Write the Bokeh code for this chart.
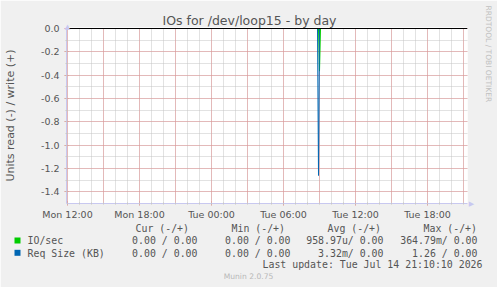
import math
import pandas as pd
from bokeh.plotting import figure
from bokeh.models import (Range1d, SingleIntervalTicker, DatetimeTickFormatter,
                          NumeralTickFormatter, Span, Grid)
from bokeh.core.properties import value
from bokeh.embed import file_html
from bokeh.resources import INLINE

# ---------------- data ----------------
title = "IOs for /dev/loop15 - by day"
y_label = "Units read (-) / write (+)"
x_start = "2026-07-13 11:55"
x_end = "2026-07-14 21:20"
y_min, y_max = -1.5, 0.0086

series_names = ["IO/sec", "Req Size (KB)"]
series_colors = ["#00CC00", "#0066B3"]

io_times = ["2026-07-13 11:55", "2026-07-14 08:55", "2026-07-14 09:00",
            "2026-07-14 09:05", "2026-07-14 21:10"]
io_read = [0.0, 0.0, 0.365, 0.0, 0.0]
io_write = [0.0, 0.0, 0.0, 0.0, 0.0]

req_times = ["2026-07-13 11:55", "2026-07-14 08:50", "2026-07-14 08:55",
             "2026-07-14 09:00", "2026-07-14 21:10"]
req_read = [0.0, 0.0, 1.26, 0.0, 0.0]
req_write = [0.0, 0.0, 0.0, 0.0, 0.0]

legend_headers = ["Cur (-/+)", "Min (-/+)", "Avg (-/+)", "Max (-/+)"]
cur_vals = ["0.00 / 0.00", "0.00 / 0.00"]
min_vals = ["0.00 / 0.00", "0.00 / 0.00"]
avg_vals = ["958.97u/ 0.00", "3.32m/ 0.00"]
max_vals = ["364.79m/ 0.00", "1.26 / 0.00"]
last_update = "Last update: Tue Jul 14 21:10:10 2026"
version_text = "Munin 2.0.75"
side_text = "RRDTOOL / TOBI OETIKER"

# ---------------- layout ----------------
W, H = 497, 287
FL, FT, FW, FH = 66, 27, 401, 176
FB = FT + FH

xs_ms = pd.Timestamp(x_start).value / 1e6
xe_ms = pd.Timestamp(x_end).value / 1e6
MS_PER_PX = (xe_ms - xs_ms) / FW
U_PER_PX = (y_max - y_min) / FH

def dx(cx):
    return xs_ms + (cx - FL) * MS_PER_PX

def dy(cy):
    return y_max - (cy - FT) * U_PER_PX

TEXT = "#555555"
MONO = "DejaVu Sans Mono"
SANS = "DejaVu Sans"

p = figure(width=W, height=H, x_axis_type="datetime",
           x_range=Range1d(xs_ms, xe_ms),
           y_range=Range1d(y_min, y_max),
           output_backend="svg", toolbar_location=None,
           min_border_left=FL, min_border_right=W - FL - FW,
           min_border_top=FT, min_border_bottom=H - FB)
p.background_fill_color = "white"
p.border_fill_color = "#F0F0F0"
p.outline_line_color = None

# grids: minor first, then major on top
p.xgrid.visible = False
p.ygrid.visible = False
HOUR = 3600 * 1000
grid_specs = [
    (0, SingleIntervalTicker(interval=HOUR), "#C4C4C4"),
    (1, SingleIntervalTicker(interval=0.1), "#C4C4C4"),
    (0, SingleIntervalTicker(interval=3 * HOUR), "#E49090"),
    (1, SingleIntervalTicker(interval=0.2), "#E49090"),
]
for dim, tk, col in grid_specs:
    g = Grid(dimension=dim, ticker=tk, grid_line_color=col, grid_line_dash="1 1",
             minor_grid_line_color=None)
    p.add_layout(g)

# axes
fmt = "%a %H:%M"
xa = p.xaxis[0]
xa.ticker = SingleIntervalTicker(interval=6 * HOUR, num_minor_ticks=6)
xa.formatter = DatetimeTickFormatter(hours=fmt, hourmin=fmt, days=fmt, minutes=fmt,
                                     minsec=fmt, seconds=fmt, months=fmt, years=fmt)
ya = p.yaxis[0]
ya.ticker = SingleIntervalTicker(interval=0.2, num_minor_ticks=2)
ya.formatter = NumeralTickFormatter(format="0.0")
ya.axis_label = y_label
ya.axis_label_text_font = SANS
ya.axis_label_text_font_size = "11px"
ya.axis_label_text_font_style = "normal"
ya.axis_label_text_color = TEXT
ya.axis_label_standoff = 21
for ax in (xa, ya):
    ax.axis_line_color = "#C8C8F0"
    ax.major_tick_line_color = "#E09090"
    ax.major_tick_in = 2
    ax.major_tick_out = 2
    ax.minor_tick_line_color = "#C8C8C8"
    ax.minor_tick_in = 1
    ax.minor_tick_out = 1
    ax.major_label_text_font = SANS
    ax.major_label_text_font_size = "9.5px"
    ax.major_label_text_color = TEXT
xa.major_label_standoff = 3
ya.major_label_standoff = 5

# series lines (IO/sec first, Req Size on top)
p.line(pd.to_datetime(io_times), [-v for v in io_read], line_color=series_colors[0], line_width=1)
p.line(pd.to_datetime(io_times), io_write, line_color=series_colors[0], line_width=1)
p.line(pd.to_datetime(req_times), [-v for v in req_read], line_color=series_colors[1], line_width=1)
p.line(pd.to_datetime(req_times), req_write, line_color=series_colors[1], line_width=1)
p.add_layout(Span(location=0, dimension="width", line_color="black", line_width=1))

def lab(cx, cy, text, size, font=SANS, color=TEXT, align="left", angle=0.0, baseline="alphabetic"):
    p.text(x=[dx(cx)], y=[dy(cy)], text=[text], text_font=value(font),
           text_font_size=value(size), text_color=color, text_align=align,
           text_baseline=baseline, angle=angle, level="overlay")

# title and side texts
lab(249, 20, title, "12.5px", align="center")
lab(488, 5, side_text, "7.5px", color="#C0C0C0", angle=-math.pi / 2, baseline="middle")
lab(248, 276, version_text, "7.6px", color="#B8B8B8", align="center")

# axis arrows
lab(67, 26, "\u25B2", "7px", color="#C8C8F0", align="center")
lab(471, 203, "\u25B6", "7px", color="#C8C8F0", align="center", baseline="middle")

# legend
header_x = [135, 231, 327, 423]
for hx, ht in zip(header_x, legend_headers):
    lab(hx, 227.5, ht, "9.9px", font=MONO)
row_base = [240, 252.5]
sq_top = [237, 249.3]
for i in range(2):
    b = row_base[i]
    p.quad(left=[dx(14)], right=[dx(20)], top=[dy(sq_top[i])], bottom=[dy(sq_top[i] + 6)],
           fill_color=series_colors[i], line_color=None, level="overlay")
    lab(27, b, series_names[i], "9.9px", font=MONO)
    lab(197, b, cur_vals[i], "9.9px", font=MONO, align="right")
    lab(290, b, min_vals[i], "9.9px", font=MONO, align="right")
    lab(383, b, avg_vals[i], "9.9px", font=MONO, align="right")
    lab(477, b, max_vals[i], "9.9px", font=MONO, align="right")
lab(262, 264, last_update, "9.9px", font=MONO)

open("out.html", "w").write(file_html(p, INLINE))
